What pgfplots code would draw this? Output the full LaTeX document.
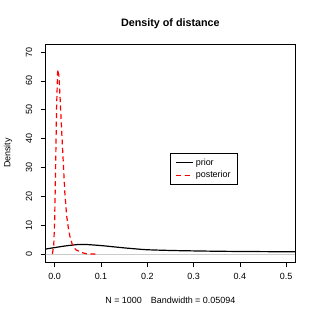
\documentclass[border=0pt]{standalone}
\usepackage{pgfplots}
\pgfplotsset{compat=1.18}
\usepackage{fontspec}
\setmainfont{Liberation Sans}
\begin{document}
\begin{tikzpicture}
\path[use as bounding box] (0,0) rectangle (319bp,319bp);
\begin{axis}[
  scale only axis,
  width=249.3bp, height=218bp,
  at={(45.7bp,57bp)}, anchor=south west,
  xmin=-0.0194, xmax=0.519,
  ymin=-2.8, ymax=72.8,
  axis line style={line width=0.8bp},
  xtick={0,0.1,0.2,0.3,0.4,0.5},
  xticklabels={0.0,0.1,0.2,0.3,0.4,0.5},
  ytick={0,10,20,30,40,50,60,70},
  xtick pos=bottom, ytick pos=left,
  tick align=outside, major tick length=5bp,
  tick style={line width=0.6bp, black},
  /pgf/number format/assume math mode=true,
  tick label style={font=\fontsize{9}{11}\selectfont},
  yticklabel style={rotate=90, anchor=south, yshift=5bp},
  xticklabel style={yshift=-3bp},
  title={Density of distance},
  title style={font=\fontsize{10.8}{13}\selectfont\bfseries, anchor=center, yshift=14bp},
  xlabel={N = 1000\quad Bandwidth = 0.05094},
  xlabel style={font=\fontsize{9}{11}\selectfont, at={(axis description cs:0.5,0)}, anchor=center, yshift=-38bp},
  ylabel={Density},
  ylabel style={font=\fontsize{9}{11}\selectfont, at={([xshift=-37.7bp]axis description cs:0,0.5)}, anchor=center},
  legend style={at={(0.5,0.5)}, anchor=north west, draw=black, line width=0.5bp,
    font=\fontsize{9}{11}\selectfont, inner xsep=5bp, inner ysep=3.5bp, row sep=0.5bp,
    legend cell align=left},
  legend image post style={line width=1.2bp},
  clip=true,
]
\addplot[gray!40, line width=0.6bp, forget plot] coordinates {(-0.1,0) (0.6,0)};
\addplot[black, line width=1.2bp, smooth] coordinates {
(-0.03,1.5) (-0.0194,1.7) (0,2.2) (0.02,2.7) (0.04,3.1) (0.055,3.3) (0.07,3.25)
(0.1,2.9) (0.125,2.5) (0.15,2.1) (0.175,1.75) (0.2,1.45) (0.25,1.2) (0.3,1.05)
(0.35,0.93) (0.4,0.85) (0.45,0.8) (0.5,0.75) (0.53,0.72)};
\addlegendentry{prior}
\addplot[red, line width=1.2bp, dash pattern=on 5bp off 3.5bp] coordinates {
(-0.005,0) (-0.002,3) (0.0,12) (0.002,30) (0.004,50) (0.0065,64) (0.009,62)
(0.0114,55) (0.015,43) (0.0186,31.6) (0.022,21) (0.026,13) (0.03,8.5) (0.033,6)
(0.037,3.8) (0.040,2.5) (0.047,1.3) (0.0546,0.8) (0.062,0.3) (0.069,0.05) (0.08,0) (0.09,0)};
\addlegendentry{posterior}
\end{axis}
\end{tikzpicture}
\end{document}
